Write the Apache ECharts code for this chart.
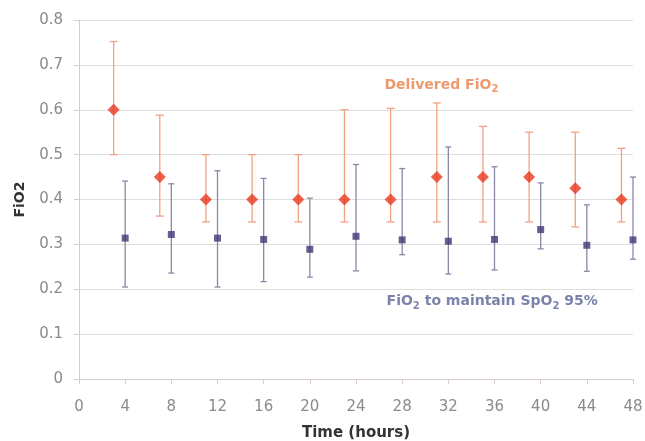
<!DOCTYPE html>
<html><head><meta charset="utf-8">
<script src="https://cdn.jsdelivr.net/npm/echarts@6/dist/echarts.min.js"></script>
<style>html,body{margin:0;padding:0;background:#fff}#c{width:645px;height:441px}</style>
</head><body><div id="c"></div>
<script>
// Delivered FiO2 (red)
const deliveredX = [3, 7, 11, 15, 19, 23, 27, 31, 35, 39, 43, 47];
const deliveredMean = [0.6, 0.45, 0.4, 0.4, 0.4, 0.4, 0.4, 0.45, 0.45, 0.45, 0.425, 0.4];
const deliveredLow = [0.5, 0.363, 0.35, 0.35, 0.35, 0.35, 0.35, 0.35, 0.35, 0.35, 0.339, 0.35];
const deliveredHigh = [0.752, 0.588, 0.5, 0.5, 0.5, 0.6, 0.603, 0.615, 0.563, 0.55, 0.55, 0.514];
// FiO2 to maintain SpO2 95% (blue)
const requiredX = [4, 8, 12, 16, 20, 24, 28, 32, 36, 40, 44, 48];
const requiredMean = [0.314, 0.322, 0.314, 0.311, 0.289, 0.318, 0.31, 0.307, 0.311, 0.333, 0.298, 0.31];
const requiredLow = [0.205, 0.236, 0.205, 0.217, 0.227, 0.241, 0.277, 0.234, 0.243, 0.29, 0.24, 0.267];
const requiredHigh = [0.441, 0.435, 0.464, 0.447, 0.403, 0.478, 0.469, 0.517, 0.473, 0.437, 0.388, 0.45];
// axes
const xTicks = [0, 4, 8, 12, 16, 20, 24, 28, 32, 36, 40, 44, 48];
const yTicks = [0, 0.1, 0.2, 0.3, 0.4, 0.5, 0.6, 0.7, 0.8];

const redBar = '#f2a283', redDot = '#e8381e';
const blueBar = '#8c86a6', blueDot = '#3d3873';
const axisCol = '#d9cdcd';

function errData(xs, lo, hi) { return xs.map((x, i) => [x, lo[i], hi[i]]); }
function errRender(color, half) {
  return function (params, api) {
    const x = api.value(0);
    const a = api.coord([x, api.value(2)]);
    const b = api.coord([x, api.value(1)]);
    const st = { stroke: color, lineWidth: 1.3 };
    return { type: 'group', children: [
      { type: 'line', shape: { x1: a[0], y1: a[1], x2: b[0], y2: b[1] }, style: st },
      { type: 'line', shape: { x1: a[0] - half, y1: a[1], x2: a[0] + half, y2: a[1] }, style: st },
      { type: 'line', shape: { x1: b[0] - half, y1: b[1], x2: b[0] + half, y2: b[1] }, style: st }
    ]};
  };
}

const chart = echarts.init(document.getElementById('c'), null, { renderer: 'canvas' });
const font = 'DejaVu Sans, Verdana, sans-serif';
chart.setOption({
  animation: false,
  textStyle: { fontFamily: font },
  grid: { left: 79, right: 12, top: 20, bottom: 62, containLabel: false, outerBoundsMode: 'none' },
  xAxis: {
    type: 'value', min: xTicks[0], max: xTicks[xTicks.length - 1], interval: 4,
    axisLine: { show: true, lineStyle: { color: axisCol } },
    axisTick: { show: true, length: 5, lineStyle: { color: axisCol } },
    splitLine: { show: false },
    axisLabel: { color: '#8a8a8a', fontSize: 15, margin: 21, fontFamily: font },
    name: 'Time (hours)', nameLocation: 'middle', nameGap: 47,
    nameTextStyle: { color: '#333', fontWeight: 'bold', fontSize: 15, fontFamily: font }
  },
  yAxis: {
    type: 'value', min: yTicks[0], max: yTicks[yTicks.length - 1], interval: 0.1,
    axisLine: { show: true, lineStyle: { color: axisCol } },
    axisTick: { show: true, length: 5, lineStyle: { color: axisCol } },
    splitLine: { show: true, lineStyle: { color: '#dedede', width: 1 } },
    axisLabel: { color: '#8a8a8a', fontSize: 15, margin: 16, fontFamily: font,
      formatter: v => (Math.abs(v) < 1e-9 ? '0' : v.toFixed(1)) },
    name: 'FiO2', nameLocation: 'middle', nameGap: 52, nameRotate: 90,
    nameTextStyle: { color: '#333', fontWeight: 'bold', fontSize: 14, fontFamily: font }
  },
  series: [
    { type: 'custom', name: 'deliveredErr', data: errData(deliveredX, deliveredLow, deliveredHigh),
      renderItem: errRender(redBar, 4), z: 2 },
    { type: 'custom', name: 'requiredErr', data: errData(requiredX, requiredLow, requiredHigh),
      renderItem: errRender(blueBar, 3), z: 2 },
    { type: 'scatter', name: 'Delivered', data: deliveredX.map((x, i) => [x, deliveredMean[i]]),
      symbol: 'diamond', symbolSize: 12, itemStyle: { color: redDot }, z: 3 },
    { type: 'scatter', name: 'Required', data: requiredX.map((x, i) => [x, requiredMean[i]]),
      symbol: 'rect', symbolSize: 7, itemStyle: { color: blueDot }, z: 3 },
    { type: 'scatter', name: 'labels', symbolSize: 0, silent: true,
      data: [
        { value: [31.4, 0.655], label: { formatter: '{a|Delivered FiO}{s|2}', rich: {
          a: { color: '#e8804a', fontWeight: 'bold', fontSize: 14, fontFamily: font },
          s: { color: '#e8804a', fontWeight: 'bold', fontSize: 10, fontFamily: font, padding: [9, 0, 0, 0] } } } },
        { value: [35.8, 0.172], label: { formatter: '{a|FiO}{s|2}{a| to maintain SpO}{s|2}{a| 95%}', rich: {
          a: { color: '#5a6496', fontWeight: 'bold', fontSize: 14, fontFamily: font },
          s: { color: '#5a6496', fontWeight: 'bold', fontSize: 10, fontFamily: font, padding: [9, 0, 0, 0] } } } }
      ],
      label: { show: true, position: 'inside' } }
  ]
});
</script></body></html>
